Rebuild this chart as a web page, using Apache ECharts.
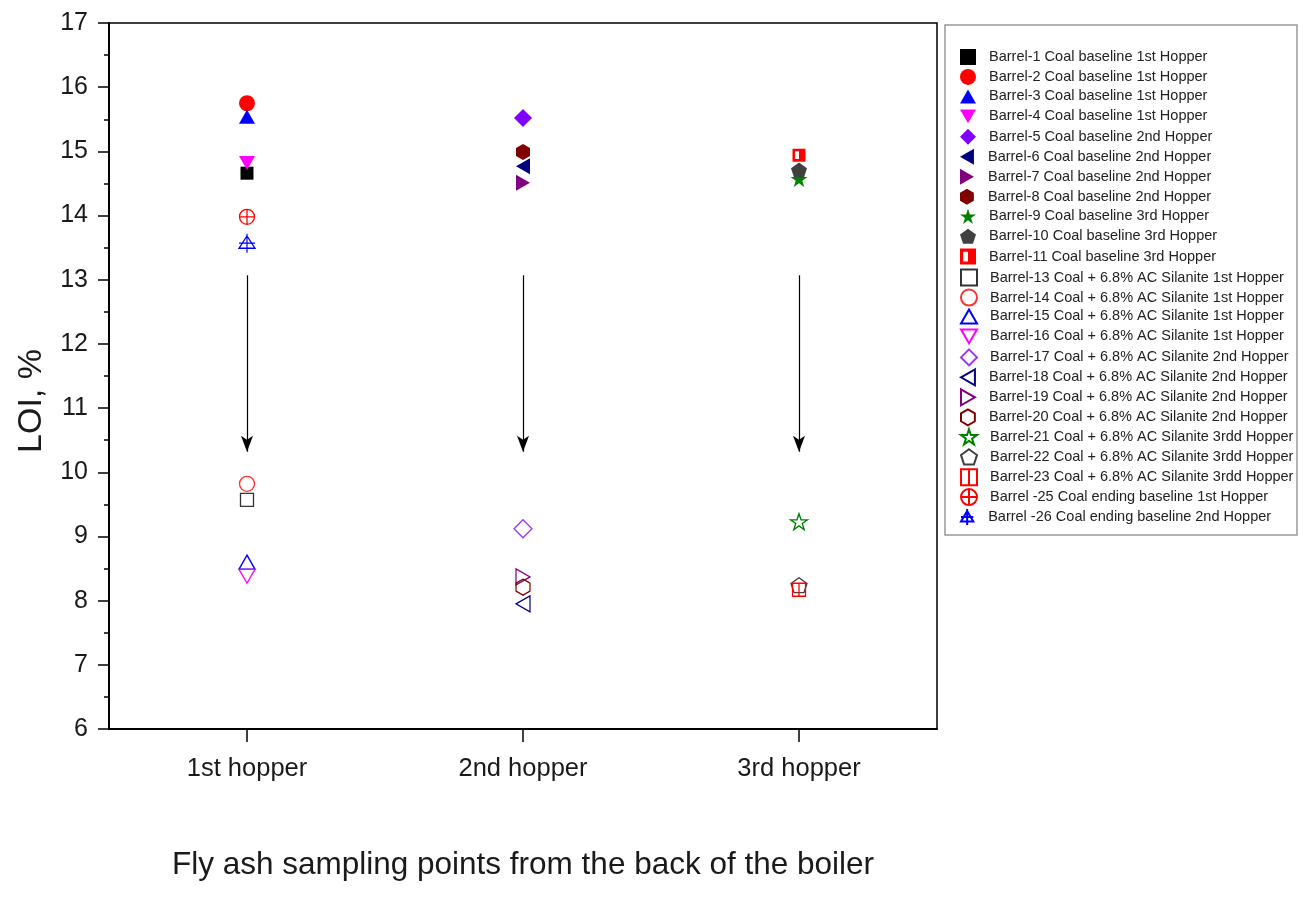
<!DOCTYPE html>
<html>
<head>
<meta charset="utf-8">
<script src="https://cdn.jsdelivr.net/npm/echarts@6/dist/echarts.min.js"></script>
<style>
html,body{margin:0;padding:0;background:#fff;}
#chart{width:1309px;height:907px;}
</style>
</head>
<body>
<div id="chart"></div>
<script>
// ---- data ----
const categories = ['1st hopper', '2nd hopper', '3rd hopper'];
const seriesNames = [
  'Barrel-1 Coal baseline 1st Hopper',
  'Barrel-2 Coal baseline 1st Hopper',
  'Barrel-3 Coal baseline 1st Hopper',
  'Barrel-4 Coal baseline 1st Hopper',
  'Barrel-5 Coal baseline 2nd Hopper',
  'Barrel-6 Coal baseline 2nd Hopper',
  'Barrel-7 Coal baseline 2nd Hopper',
  'Barrel-8 Coal baseline 2nd Hopper',
  'Barrel-9 Coal baseline 3rd Hopper',
  'Barrel-10 Coal baseline 3rd Hopper',
  'Barrel-11 Coal baseline 3rd Hopper',
  'Barrel-13 Coal + 6.8% AC Silanite 1st Hopper',
  'Barrel-14 Coal + 6.8% AC Silanite 1st Hopper',
  'Barrel-15 Coal + 6.8% AC Silanite 1st Hopper',
  'Barrel-16 Coal + 6.8% AC Silanite 1st Hopper',
  'Barrel-17 Coal + 6.8% AC Silanite 2nd Hopper',
  'Barrel-18 Coal + 6.8% AC Silanite 2nd Hopper',
  'Barrel-19 Coal + 6.8% AC Silanite 2nd Hopper',
  'Barrel-20 Coal + 6.8% AC Silanite 2nd Hopper',
  'Barrel-21 Coal + 6.8% AC Silanite 3rdd Hopper',
  'Barrel-22 Coal + 6.8% AC Silanite 3rdd Hopper',
  'Barrel-23 Coal + 6.8% AC Silanite 3rdd Hopper',
  'Barrel -25 Coal ending baseline 1st Hopper',
  'Barrel -26 Coal ending baseline 2nd Hopper'
];
const seriesHopper = ['1st hopper','1st hopper','1st hopper','1st hopper',
  '2nd hopper','2nd hopper','2nd hopper','2nd hopper',
  '3rd hopper','3rd hopper','3rd hopper',
  '1st hopper','1st hopper','1st hopper','1st hopper',
  '2nd hopper','2nd hopper','2nd hopper','2nd hopper',
  '3rd hopper','3rd hopper','3rd hopper',
  '1st hopper','1st hopper'];
const loiValues = [14.66, 15.75, 15.54, 14.82,
  15.52, 14.77, 14.51, 14.99,
  14.57, 14.71, 14.94,
  9.57, 9.82, 8.60, 8.38,
  9.12, 7.95, 8.37, 8.21,
  9.23, 8.24, 8.17,
  13.98, 13.57];
const arrowStart = [13.07, 13.07, 13.07];
const arrowEnd = [10.32, 10.32, 10.32];
const yTicks = [6, 7, 8, 9, 10, 11, 12, 13, 14, 15, 16, 17];
const yAxisTitle = 'LOI, %';
const xAxisTitle = 'Fly ash sampling points from the back of the boiler';

// ---- styles ----
const FONT = 'Liberation Sans, Arial, sans-serif';
const P = {
  tri: 'path://M5,0 L10,8.7 L0,8.7 Z',
  inv: 'path://M0,0 L10,0 L5,8.7 Z',
  left: 'path://M0,5 L8.7,0 L8.7,10 Z',
  right: 'path://M0,0 L8.7,5 L0,10 Z',
  hex: 'path://M5,0 L9.33,2.5 L9.33,7.5 L5,10 L0.67,7.5 L0.67,2.5 Z',
  pent: 'path://M5,0 L10,3.63 L8.09,9.51 L1.91,9.51 L0,3.63 Z',
  star: 'path://M5,0 L6.18,3.62 L10,3.62 L6.91,5.86 L8.09,9.51 L5,7.25 L1.91,9.51 L3.09,5.86 L0,3.62 L3.82,3.62 Z',
  half: 'path://M0,0 L10,0 L10,10 L0,10 Z M2,2 L2,8 L5,8 L5,2 Z',
  split: 'path://M0,0 L10,0 L10,10 L0,10 Z M5,0 L5,10',
  ccirc: 'path://M0,5 A5,5 0 1,1 10,5 A5,5 0 1,1 0,5 Z M5,0 L5,10 M0,5 L10,5',
  ctri: 'path://M5,1.5 L10,10 L0,10 Z M5,0 L5,13 M0,6.5 L10,6.5'
};
const styles = [
  {s:'rect', c:'#000000', f:true, z:[13,13]},
  {s:'circle', c:'#ff0000', f:true, z:16},
  {s:P.tri, c:'#0000ff', f:true, z:[16,14]},
  {s:P.inv, c:'#ff00ff', f:true, z:[16,14]},
  {s:'diamond', c:'#8000ff', f:true, z:[18,18]},
  {s:P.left, c:'#000080', f:true, z:[14,16]},
  {s:P.right, c:'#800080', f:true, z:[14,16]},
  {s:P.hex, c:'#800000', f:true, z:[14,16]},
  {s:P.star, c:'#008000', f:true, z:[17,16]},
  {s:P.pent, c:'#404040', f:true, z:[16,15]},
  {s:P.half, c:'#ff0000', f:true, z:[13,13]},
  {s:'rect', c:'#333333', f:false, z:[13,13]},
  {s:'circle', c:'#ff3030', f:false, z:15},
  {s:P.tri, c:'#0000ff', f:false, z:[16,14]},
  {s:P.inv, c:'#ff00ff', f:false, z:[16,14]},
  {s:'diamond', c:'#9933ff', f:false, z:[18,18]},
  {s:P.left, c:'#000080', f:false, z:[14,16]},
  {s:P.right, c:'#800080', f:false, z:[14,16]},
  {s:P.hex, c:'#800000', f:false, z:[14,16]},
  {s:P.star, c:'#008000', f:false, z:[17,16]},
  {s:P.pent, c:'#404040', f:false, z:[16,15]},
  {s:P.split, c:'#ff0000', f:false, z:[13,13]},
  {s:P.ccirc, c:'#ff0000', f:false, z:15},
  {s:P.ctri, c:'#0000ff', f:false, z:[16,19]}
];

const chart = echarts.init(document.getElementById('chart'));

const series = seriesNames.map((name, i) => {
  const st = styles[i];
  return {
    name: name,
    type: 'scatter',
    symbol: st.s,
    symbolSize: st.z,
    symbolKeepAspect: false,
    data: [[seriesHopper[i], loiValues[i]]],
    itemStyle: st.f
      ? {color: st.c, borderColor: st.c, borderWidth: 0, opacity: 1}
      : {color: 'rgba(255,255,255,0)', borderColor: st.c, borderWidth: 1.3, opacity: 1},
    emphasis: {disabled: true},
    z: 3
  };
});

series.push({
  name: 'arrows',
  type: 'scatter',
  data: [],
  silent: true,
  markLine: {
    silent: true,
    animation: false,
    symbol: ['none', 'arrow'],
    symbolSize: [9, 16],
    label: {show: false},
    lineStyle: {color: '#000', width: 1.2, type: 'solid'},
    emphasis: {disabled: true},
    data: categories.map((c, i) => [
      {coord: [c, arrowStart[i]]},
      {coord: [c, arrowEnd[i]]}
    ])
  }
});

// one legend component per entry for exact row spacing
const legends = seriesNames.map((name, i) => ({
  show: true,
  orient: 'vertical',
  left: 960,
  top: 57 - 8 + i * 19.96,
  padding: 0,
  itemWidth: 16,
  itemHeight: 16,
  itemGap: 0,
  data: [name],
  selectedMode: false,
  textStyle: {
    fontSize: 14.5, color: '#222',
    fontFamily: FONT,
    padding: [0, 0, 0, 8]
  }
}));

const option = {
  animation: false,
  backgroundColor: '#ffffff',
  textStyle: {fontFamily: FONT},
  grid: {
    left: 109, top: 23, width: 828, height: 706,
    show: true, borderColor: '#000', borderWidth: 1.5,
    backgroundColor: 'rgba(0,0,0,0)'
  },
  xAxis: {
    type: 'category',
    data: categories,
    boundaryGap: true,
    name: xAxisTitle,
    nameLocation: 'middle',
    nameGap: 120,
    nameTextStyle: {fontSize: 31.5, color: '#1a1a1a', fontFamily: FONT},
    axisLine: {lineStyle: {color: '#000', width: 2}},
    axisTick: {show: true, alignWithLabel: true, length: 13, lineStyle: {color: '#000', width: 1.5}},
    axisLabel: {fontSize: 25.5, color: '#1a1a1a', margin: 27, fontFamily: FONT},
    splitLine: {show: false}
  },
  yAxis: {
    type: 'value',
    min: 6, max: 17, interval: 1,
    axisLine: {show: true, lineStyle: {color: '#000', width: 2}},
    axisTick: {show: true, inside: false, length: 11, lineStyle: {color: '#000', width: 1.5}},
    minorTick: {show: true, splitNumber: 2, length: 5, lineStyle: {color: '#000', width: 1.5}},
    axisLabel: {
      fontSize: 25, color: '#1a1a1a', margin: 21,
      fontFamily: FONT,
      formatter: v => (yTicks.indexOf(v) >= 0 ? String(v) : '')
    },
    splitLine: {show: false}
  },
  legend: legends,
  graphic: [{
    type: 'rect',
    shape: {x: 945, y: 25, width: 352, height: 510},
    style: {fill: 'none', stroke: '#999', lineWidth: 1.5},
    silent: true,
    z: -1
  }, {
    type: 'text',
    x: 32, y: 401,
    rotation: Math.PI / 2,
    style: {
      text: yAxisTitle,
      font: '34px ' + FONT,
      fill: '#1a1a1a',
      align: 'center',
      verticalAlign: 'middle'
    },
    silent: true
  }],
  series: series
};
chart.setOption(option);
</script>
</body>
</html>
